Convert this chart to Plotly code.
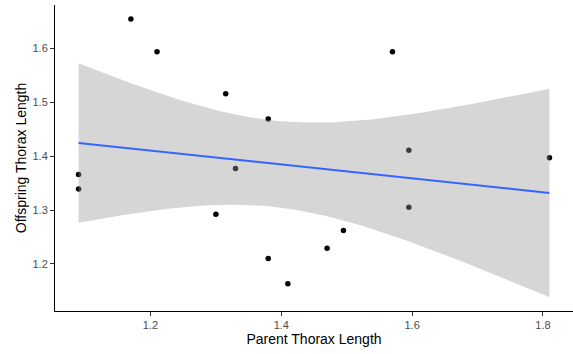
import numpy as np
import plotly.graph_objects as go

parent = [1.09, 1.09, 1.17, 1.21, 1.30, 1.315, 1.33, 1.38, 1.38, 1.41, 1.47, 1.495, 1.57, 1.595, 1.595, 1.81]
offspring = [1.366, 1.339, 1.655, 1.594, 1.292, 1.516, 1.377, 1.469, 1.210, 1.163, 1.229, 1.262, 1.594, 1.411, 1.305, 1.397]
x_ticks = [1.2, 1.4, 1.6, 1.8]
y_ticks = [1.2, 1.3, 1.4, 1.5, 1.6]
x_title = "Parent Thorax Length"
y_title = "Offspring Thorax Length"

# linear model fit with 95% confidence band (like geom_smooth(method="lm"))
x = np.array(parent)
y = np.array(offspring)
n = len(x)
b1, b0 = np.polyfit(x, y, 1)
resid = y - (b0 + b1 * x)
s = np.sqrt(np.sum(resid ** 2) / (n - 2))
sxx = np.sum((x - x.mean()) ** 2)
T_CRIT = 2.144787  # t(0.975, df=14)
xg = np.linspace(x.min(), x.max(), 80)
yg = b0 + b1 * xg
se = s * np.sqrt(1.0 / n + (xg - x.mean()) ** 2 / sxx)
lo = yg - T_CRIT * se
hi = yg + T_CRIT * se

def expand(a, b, f=0.05):
    d = (b - a) * f
    return [a - d, b + d]

xr = expand(x.min(), x.max())
yr = expand(min(y.min(), lo.min()), max(y.max(), hi.max()))

fig = go.Figure()
fig.add_trace(go.Scatter(x=parent, y=offspring, mode="markers",
                         marker=dict(color="black", size=5.5), showlegend=False))
fig.add_trace(go.Scatter(x=np.concatenate([xg, xg[::-1]]), y=np.concatenate([hi, lo[::-1]]),
                         mode="lines", fill="toself", fillcolor="rgba(153,153,153,0.4)",
                         line=dict(width=0), showlegend=False, hoverinfo="skip"))
fig.add_trace(go.Scatter(x=xg, y=yg, mode="lines", line=dict(color="#3366FF", width=2),
                         showlegend=False))

font = "Liberation Sans, Arial, sans-serif"
axis_common = dict(showline=True, linecolor="black", linewidth=1, ticks="outside", ticklen=4,
                   tickcolor="#333333", tickwidth=1, showgrid=False, zeroline=False,
                   tickfont=dict(family=font, size=11, color="#4D4D4D"), tickformat=".1f")
fig.update_layout(
    width=573, height=354, margin=dict(l=55, r=0, t=5, b=43),
    plot_bgcolor="white", paper_bgcolor="white",
    xaxis=dict(range=xr, tickvals=x_ticks, title=dict(text=x_title, font=dict(family=font, size=14, color="black"), standoff=1), **axis_common),
    yaxis=dict(range=yr, tickvals=y_ticks, title=dict(text=y_title, font=dict(family=font, size=14, color="black"), standoff=2), **axis_common),
)
fig.write_html("out.html")
